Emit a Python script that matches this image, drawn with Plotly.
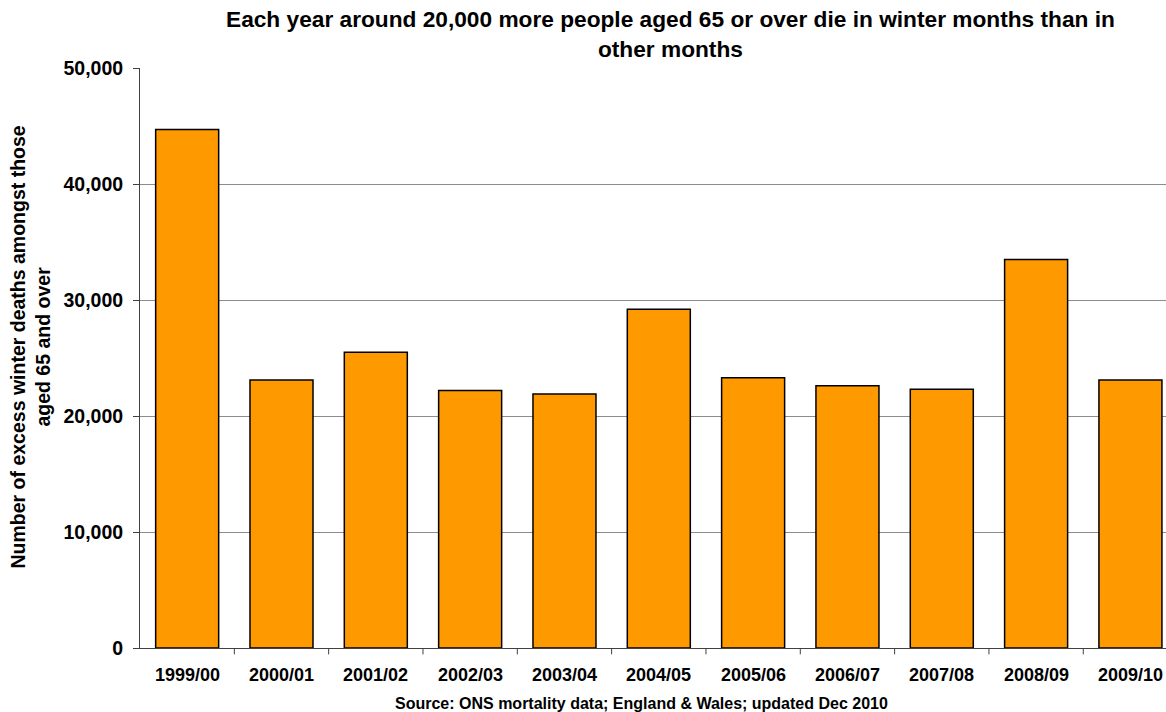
import plotly.graph_objects as go

categories = ["1999/00", "2000/01", "2001/02", "2002/03", "2003/04", "2004/05",
              "2005/06", "2006/07", "2007/08", "2008/09", "2009/10"]
deaths = [44700, 23100, 25500, 22200, 21900, 29200, 23300, 22600, 22300, 33500, 23100]
y_ticks = [0, 10000, 20000, 30000, 40000, 50000]
y_tick_labels = ["0", "10,000", "20,000", "30,000", "40,000", "50,000"]

title_text = ("Each year around 20,000 more people aged 65 or over die in winter months than in"
              "<br>other months")
y_title = "Number of excess winter deaths amongst those<br>aged 65 and over"
source_text = "Source: ONS mortality data; England & Wales; updated Dec 2010"

FONT = "Liberation Sans, Arial, sans-serif"

fig = go.Figure()
fig.add_trace(go.Bar(
    x=list(range(len(categories))),
    y=deaths,
    width=0.668,
    marker=dict(color="#FF9900", line=dict(color="#000000", width=1.5)),
    hoverinfo="skip",
))

fig.update_layout(
    width=1166, height=712,
    margin=dict(l=140, r=0, t=68, b=64),
    plot_bgcolor="white", paper_bgcolor="white",
    showlegend=False,
    font=dict(family=FONT, color="#000000"),
    xaxis=dict(
        range=[-0.5, 10.377],
        showticklabels=False,
        showgrid=False,
        showline=True, linecolor="#404040", linewidth=1,
        ticks="",
        zeroline=False,
    ),
    yaxis=dict(
        range=[0, 50000],
        tickmode="array",
        tickvals=y_ticks,
        ticktext=y_tick_labels,
        tickfont=dict(size=19.5, family=FONT, weight="bold"),
        showgrid=True, gridcolor="#8C8C8C", gridwidth=1,
        showline=True, linecolor="#404040", linewidth=1,
        ticks="outside", ticklen=6, tickcolor="#404040",
        ticklabelstandoff=6,
        zeroline=False,
    ),
)

# category labels (drawn as annotations so the last one may overflow the plot edge)
for i, cat in enumerate(categories):
    fig.add_annotation(text=cat, xref="x", yref="paper", x=i, y=-(675 - 648) / 580,
                       xanchor="center", yanchor="middle", showarrow=False,
                       font=dict(size=18, family=FONT, weight="bold"))

# category boundary tick marks below x axis
for i in range(len(categories)):
    b = i + 0.5
    fig.add_shape(type="line", xref="x", yref="paper", x0=b, x1=b, y0=0, y1=-0.011,
                  line=dict(color="#404040", width=1))

fig.add_annotation(text=title_text, xref="paper", yref="paper",
                   x=(670 - 140) / 1026, y=1 + (68 - 4) / 580, xanchor="center", yanchor="top",
                   showarrow=False, align="center",
                   font=dict(size=22.7, family=FONT, weight="bold"))
fig.add_annotation(text=y_title, xref="paper", yref="paper",
                   x=-(140 - 4) / 1026, y=(648 - 347) / 580, xanchor="left", yanchor="middle",
                   textangle=-90, showarrow=False, align="center",
                   font=dict(size=19.5, family=FONT, weight="bold"))
fig.add_annotation(text=source_text, xref="paper", yref="paper",
                   x=(641 - 140) / 1026, y=-(712 - 648 + 2) / 580, xanchor="center", yanchor="bottom",
                   showarrow=False,
                   font=dict(size=16, family=FONT, weight="bold"))

fig.write_html("out.html")
